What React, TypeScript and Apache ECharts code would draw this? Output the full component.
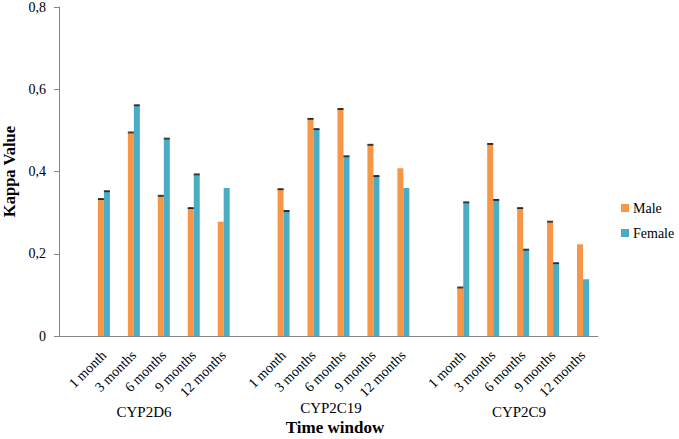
import React, { useEffect, useRef } from "react";
import * as echarts from "echarts";

const genes = ["CYP2D6", "CYP2C19", "CYP2C9"];
const windows = ["1 month", "3 months", "6 months", "9 months", "12 months"];
const maleValues = [
  [0.333, 0.495, 0.341, 0.311, 0.278],
  [0.357, 0.528, 0.552, 0.465, 0.408],
  [0.118, 0.467, 0.311, 0.278, 0.223],
];
const femaleValues = [
  [0.352, 0.561, 0.48, 0.393, 0.36],
  [0.304, 0.503, 0.437, 0.389, 0.36],
  [0.325, 0.331, 0.21, 0.177, 0.138],
];
const maleErrors = [
  [0.001, 0.001, 0.001, 0.001, 0],
  [0.001, 0.001, 0.001, 0.001, 0],
  [0.001, 0.001, 0.001, 0.001, 0],
];
const femaleErrors = [
  [0.001, 0.001, 0.001, 0.001, 0],
  [0.001, 0.001, 0.001, 0.001, 0],
  [0.001, 0.001, 0.001, 0.001, 0],
];
const yTicks = [0, 0.2, 0.4, 0.6, 0.8];

const MALE = "#F79646";
const FEMALE = "#4BACC6";
const FONT = "Liberation Serif";
const BAR_W = 6;

export default function App() {
  const ref = useRef<HTMLDivElement>(null);
  useEffect(() => {
    if (!ref.current) return;
    document.body.style.margin = "0";
    const chart = echarts.init(ref.current, null, { renderer: "svg" });

    const categories: string[] = [];
    const maleData: any[] = [];
    const femaleData: any[] = [];
    const maleErr: any[] = [];
    const femaleErr: any[] = [];
    genes.forEach((g, gi) => {
      categories.push("");
      maleData.push("-");
      femaleData.push("-");
      windows.forEach((w, wi) => {
        const idx = categories.length;
        categories.push(w);
        maleData.push(maleValues[gi][wi]);
        femaleData.push(femaleValues[gi][wi]);
        maleErr.push([idx, maleValues[gi][wi], maleErrors[gi][wi]]);
        femaleErr.push([idx, femaleValues[gi][wi], femaleErrors[gi][wi]]);
      });
    });

    const errSeries = (data: any[], offset: number) => ({
      type: "custom",
      data,
      encode: { x: 0, y: 1 },
      z: 5,
      silent: true,
      renderItem: (params: any, api: any) => {
        const idx = api.value(0);
        const v = api.value(1);
        const e = api.value(2);
        if (!e) return null;
        const top = api.coord([idx, v + e]);
        const bot = api.coord([idx, v - e]);
        const x = top[0] + offset;
        const style = { stroke: "#262626", lineWidth: 1 };
        return {
          type: "group",
          children: [
            { type: "line", shape: { x1: x - BAR_W / 2, y1: top[1], x2: x + BAR_W / 2, y2: top[1] }, style },
            { type: "line", shape: { x1: x - BAR_W / 2, y1: bot[1], x2: x + BAR_W / 2, y2: bot[1] }, style },
            { type: "line", shape: { x1: x, y1: top[1], x2: x, y2: bot[1] }, style },
          ],
        };
      },
    });

    const groupLabelPos = [
      [144, 412],
      [331, 408],
      [519, 412],
    ];

    chart.setOption({
      animation: false,
      textStyle: { fontFamily: FONT },
      grid: { left: 59, right: 81, top: 7, bottom: 103, containLabel: false, outerBoundsMode: "none" },
      legend: {
        data: ["Male", "Female"],
        orient: "vertical",
        left: 616,
        top: 196,
        itemWidth: 8,
        itemHeight: 8,
        itemGap: 11,
        icon: "rect",
        textStyle: { fontFamily: FONT, fontSize: 14, color: "#000", padding: [0, 0, 0, -1] },
      },
      xAxis: {
        type: "category",
        data: categories,
        axisLine: { lineStyle: { color: "#868686", width: 1 } },
        axisTick: { show: false },
        axisLabel: {
          interval: 0,
          rotate: 45,
          margin: 17,
          fontFamily: FONT,
          fontSize: 14,
          color: "#000",
        },
      },
      yAxis: {
        type: "value",
        min: yTicks[0],
        max: yTicks[yTicks.length - 1],
        interval: 0.2,
        name: "Kappa Value",
        nameLocation: "middle",
        nameGap: 36,
        nameTextStyle: { fontFamily: FONT, fontSize: 16.5, fontWeight: "bold", color: "#000" },
        axisLine: { show: true, lineStyle: { color: "#868686", width: 1 } },
        axisTick: { show: true, length: 5, lineStyle: { color: "#868686" } },
        splitLine: { show: false },
        axisLabel: {
          margin: 13,
          fontFamily: FONT,
          fontSize: 14,
          color: "#000",
          formatter: (v: number) => (v === 0 ? "0" : v.toFixed(1).replace(".", ",")),
        },
      },
      graphic: [
        ...genes.map((g, i) => ({
          type: "text",
          x: groupLabelPos[i][0],
          y: groupLabelPos[i][1],
          style: { text: g, font: `15px ${FONT}`, fill: "#000", textAlign: "center", textVerticalAlign: "middle" },
        })),
        { type: "text", x: 335, y: 427, style: { text: "Time window", font: `bold 17px ${FONT}`, fill: "#000", textAlign: "center", textVerticalAlign: "middle" } },
      ],
      series: [
        { name: "Male", type: "bar", data: maleData, barWidth: BAR_W, barGap: "0%", itemStyle: { color: MALE } },
        { name: "Female", type: "bar", data: femaleData, barWidth: BAR_W, barGap: "0%", itemStyle: { color: FEMALE } },
        errSeries(maleErr, -BAR_W / 2),
        errSeries(femaleErr, BAR_W / 2),
      ],
    });
    return () => chart.dispose();
  }, []);
  return <div ref={ref} style={{ position: "absolute", left: 0, top: 0, width: 679, height: 439 }} />;
}
